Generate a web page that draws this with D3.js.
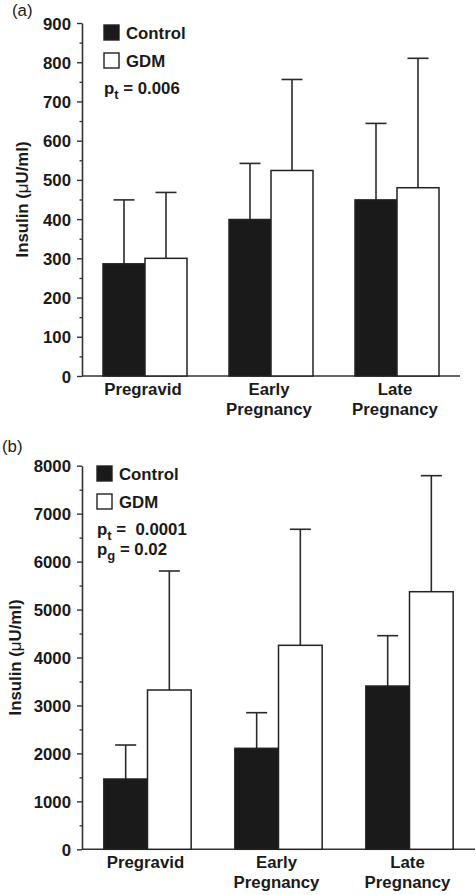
<!DOCTYPE html>
<html><head><meta charset="utf-8">
<script src="https://cdn.jsdelivr.net/npm/d3@7"></script>
<style>
body{margin:0;background:#fff;}
svg{display:block;font-family:"Liberation Sans",Arial,Helvetica,sans-serif;}
</style></head>
<body><svg id="chart" width="476" height="895"></svg>
<script>
const categories = ["Pregravid", "Early Pregnancy", "Late Pregnancy"];
const categoryLines = [["Pregravid"], ["Early", "Pregnancy"], ["Late", "Pregnancy"]];
const seriesNames = ["Control", "GDM"];

// Panel (a) insulin means and upper error bar ends (µU/ml)
const aControl = [286, 399, 449];
const aControlUpper = [449, 542, 644];
const aGDM = [300, 524, 480];
const aGDMUpper = [468, 756, 810];
const aTicks = [0, 100, 200, 300, 400, 500, 600, 700, 800, 900];
const aStats = [["t", " = 0.006"]];

// Panel (b)
const bControl = [1466, 2106, 3405];
const bControlUpper = [2175, 2849, 4455];
const bGDM = [3322, 4254, 5372];
const bGDMUpper = [5804, 6674, 7792];
const bTicks = [0, 1000, 2000, 3000, 4000, 5000, 6000, 7000, 8000];
const bStats = [["t", " =  0.0001"], ["g", " = 0.02"]];

const svg = d3.select("#chart");
const ink = "#1a1a1a";
const FS = 16.8;

function panel(o) {
  const g = svg.append("g");
  const y = d3.scaleLinear().domain([0, o.max]).range([o.y0, o.y1]);
  const x = d3.scaleBand().domain(categories).range([o.x0, o.x1]).paddingInner(1/3).paddingOuter(1/6);
  const xs = d3.scaleBand().domain(seriesNames).range([0, x.bandwidth()]);

  // minor ticks
  const minor = o.ticks.slice(0, -1).map((t, i) => (t + o.ticks[i + 1]) / 2);
  g.append("g").attr("transform", `translate(${o.x0},0)`)
    .call(d3.axisLeft(y).tickValues(minor).tickSize(2.5).tickFormat(""))
    .call(s => s.select(".domain").remove())
    .call(s => s.selectAll("line").attr("stroke", "#333").attr("stroke-width", 1.3));
  const ax = g.append("g").attr("transform", `translate(${o.x0},0)`)
    .call(d3.axisLeft(y).tickValues(o.ticks).tickSize(5).tickSizeOuter(0).tickPadding(6).tickFormat(d3.format("d")));
  ax.select(".domain").attr("stroke", "#333").attr("stroke-width", 1.6);
  ax.selectAll("line").attr("stroke", "#333").attr("stroke-width", 1.4);
  ax.selectAll("text").attr("font-size", FS).attr("font-weight", "bold").attr("fill", ink).attr("dy", "0.36em");

  // x axis line
  g.append("line").attr("x1", o.x0).attr("x2", o.x1).attr("y1", y(0)).attr("y2", y(0))
    .attr("stroke", "#333").attr("stroke-width", 1.6);

  const rows = [];
  categories.forEach((c, i) => {
    rows.push({c, s: "Control", v: o.control[i], u: o.controlUpper[i]});
    rows.push({c, s: "GDM", v: o.gdm[i], u: o.gdmUpper[i]});
  });

  // error bars
  const eb = g.append("g").attr("stroke", "#2a2a2a").attr("stroke-width", 1.6);
  rows.forEach(d => {
    const cx = x(d.c) + xs(d.s) + xs.bandwidth() / 2;
    eb.append("line").attr("x1", cx).attr("x2", cx).attr("y1", y(d.v)).attr("y2", y(d.u));
    eb.append("line").attr("x1", cx - 10.5).attr("x2", cx + 10.5).attr("y1", y(d.u)).attr("y2", y(d.u));
  });

  // bars
  g.append("g").selectAll("rect").data(rows).join("rect")
    .attr("x", d => x(d.c) + xs(d.s))
    .attr("y", d => y(d.v))
    .attr("width", xs.bandwidth())
    .attr("height", d => y(0) - y(d.v))
    .attr("fill", d => d.s === "Control" ? ink : "#fff")
    .attr("stroke", "#222").attr("stroke-width", 1.5);

  // category labels
  categories.forEach((c, i) => {
    const t = g.append("text").attr("text-anchor", "middle").attr("font-size", FS)
      .attr("font-weight", "bold").attr("fill", ink);
    categoryLines[i].forEach((ln, j) => {
      t.append("tspan").attr("x", x(c) + x.bandwidth() / 2 - 2).attr("y", o.catY + j * 20).text(ln);
    });
  });

  // y label
  const yl = g.append("text")
    .attr("transform", `translate(${o.ylx},${(o.y0 + o.y1) / 2}) rotate(-90)`)
    .attr("text-anchor", "middle").attr("font-size", FS).attr("font-weight", "bold").attr("fill", ink);
  yl.append("tspan").text("Insulin (");
  yl.append("tspan").attr("font-weight", "normal").text("μ");
  yl.append("tspan").text("U/ml)");

  // panel letter
  g.append("text").attr("x", o.letterX).attr("y", o.letterY).attr("font-size", FS).attr("fill", ink).text(o.letter);

  // legend
  seriesNames.forEach((s, i) => {
    const ly = o.legY + i * 28;
    g.append("rect").attr("x", o.legX).attr("y", ly).attr("width", 15).attr("height", 15)
      .attr("fill", s === "Control" ? ink : "#fff").attr("stroke", "#222").attr("stroke-width", 1.4);
    g.append("text").attr("x", o.legX + 22).attr("y", ly + 14).attr("font-size", FS)
      .attr("font-weight", "bold").attr("fill", ink).text(s);
  });
  o.stats.forEach((st, i) => {
    const t = g.append("text").attr("x", o.legX).attr("y", o.statY + i * 20)
      .attr("font-size", FS).attr("font-weight", "bold").attr("fill", ink).attr("xml:space", "preserve");
    t.append("tspan").text("p");
    t.append("tspan").attr("dy", 5).attr("font-size", 13).text(st[0]);
    t.append("tspan").attr("dy", -5).text(st[1]);
  });
}

panel({max: 900, ticks: aTicks, y0: 376, y1: 23, x0: 82, x1: 460,
  control: aControl, controlUpper: aControlUpper, gdm: aGDM, gdmUpper: aGDMUpper,
  catY: 395, ylx: 28, letter: "(a)", letterX: 12, letterY: 16,
  legX: 104, legY: 25, statY: 94, stats: aStats});

panel({max: 8000, ticks: bTicks, y0: 849.3, y1: 465.7, x0: 82, x1: 475,
  control: bControl, controlUpper: bControlUpper, gdm: bGDM, gdmUpper: bGDMUpper,
  catY: 868, ylx: 21, letter: "(b)", letterX: 2, letterY: 452,
  legX: 97, legY: 466, statY: 535, stats: bStats});
</script></body></html>
